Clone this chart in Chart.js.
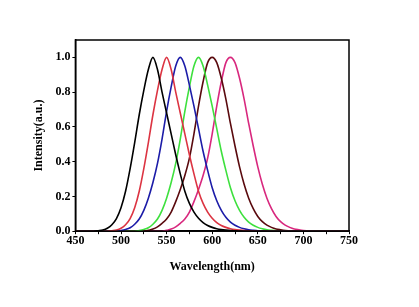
<!DOCTYPE html>
<html lang="en">
<head>
  <meta charset="UTF-8">
  <title>Emission spectra</title>
  <script src="https://cdn.jsdelivr.net/npm/chart.js@4.4.0/dist/chart.umd.min.js"></script>
  <style>
    body { margin: 0; background: #fff; }
  </style>
</head>
<body>

<canvas id="chart" width="419" height="307"></canvas>

<script>
// wavelength grid, 450..750 step 5
const wavelengths = [];
for (let w = 450; w <= 750; w += 5) wavelengths.push(w);

// intensities, 10 per row
const black = [
  0, 0, 0, 0, 0, 0.003, 0.007, 0.017, 0.037, 0.073,
  0.135, 0.23, 0.36, 0.51, 0.67, 0.81, 0.93, 1.00, 0.93, 0.80,
  0.68, 0.56, 0.44, 0.33, 0.23, 0.16, 0.11, 0.075, 0.05, 0.033,
  0.022, 0.014, 0.009, 0.006, 0.004, 0.002, 0.001, 0, 0, 0,
  0, 0, 0, 0, 0, 0, 0, 0, 0, 0,
  0, 0, 0, 0, 0, 0, 0, 0, 0, 0,
  0
];
const red = [
  0, 0, 0, 0, 0, 0, 0, 0, 0.003, 0.007,
  0.017, 0.037, 0.073, 0.135, 0.23, 0.36, 0.51, 0.67, 0.81, 0.93,
  1.00, 0.93, 0.80, 0.68, 0.56, 0.44, 0.33, 0.23, 0.16, 0.11,
  0.075, 0.05, 0.033, 0.022, 0.014, 0.009, 0.006, 0.004, 0.002, 0.001,
  0, 0, 0, 0, 0, 0, 0, 0, 0, 0,
  0, 0, 0, 0, 0, 0, 0, 0, 0, 0,
  0
];
const blue = [
  0, 0, 0, 0, 0, 0, 0, 0, 0, 0,
  0.004, 0.01, 0.02, 0.04, 0.07, 0.12, 0.19, 0.28, 0.39, 0.53,
  0.69, 0.83, 0.95, 1.00, 0.95, 0.84, 0.72, 0.59, 0.46, 0.35,
  0.25, 0.175, 0.12, 0.08, 0.052, 0.034, 0.022, 0.014, 0.008, 0.005,
  0.003, 0.001, 0, 0, 0, 0, 0, 0, 0, 0,
  0, 0, 0, 0, 0, 0, 0, 0, 0, 0,
  0
];
const green = [
  0, 0, 0, 0, 0, 0, 0, 0, 0, 0,
  0, 0, 0, 0, 0.004, 0.01, 0.02, 0.04, 0.07, 0.12,
  0.19, 0.28, 0.39, 0.53, 0.69, 0.83, 0.95, 1.00, 0.95, 0.84,
  0.72, 0.59, 0.46, 0.35, 0.25, 0.175, 0.12, 0.08, 0.052, 0.034,
  0.022, 0.014, 0.008, 0.005, 0.003, 0.001, 0, 0, 0, 0,
  0, 0, 0, 0, 0, 0, 0, 0, 0, 0,
  0
];
const brown = [
  0, 0, 0, 0, 0, 0, 0, 0, 0, 0,
  0, 0, 0, 0, 0, 0, 0.005, 0.012, 0.025, 0.045,
  0.07, 0.11, 0.17, 0.24, 0.32, 0.42, 0.56, 0.72, 0.86, 0.97,
  1.00, 0.97, 0.88, 0.76, 0.62, 0.49, 0.37, 0.27, 0.19, 0.13,
  0.085, 0.055, 0.035, 0.022, 0.013, 0.008, 0.004, 0.002, 0, 0,
  0, 0, 0, 0, 0, 0, 0, 0, 0, 0,
  0
];
const magenta = [
  0, 0, 0, 0, 0, 0, 0, 0, 0, 0,
  0, 0, 0, 0, 0, 0, 0, 0, 0, 0,
  0.005, 0.012, 0.025, 0.045, 0.07, 0.11, 0.17, 0.24, 0.32, 0.42,
  0.56, 0.72, 0.86, 0.97, 1.00, 0.97, 0.88, 0.76, 0.62, 0.49,
  0.37, 0.27, 0.19, 0.13, 0.085, 0.055, 0.035, 0.022, 0.013, 0.008,
  0.004, 0.002, 0, 0, 0, 0, 0, 0, 0, 0,
  0
];

const xTicks = [450, 500, 550, 600, 650, 700, 750];
const yTicks = [0.0, 0.2, 0.4, 0.6, 0.8, 1.0];

const series = [
  { vals: black, color: '#000000' },
  { vals: red, color: '#dc3442' },
  { vals: blue, color: '#1c1ca8' },
  { vals: green, color: '#3ee03e' },
  { vals: brown, color: '#5a0a0e' },
  { vals: magenta, color: '#d8287e' }
];

const frame = {
  id: 'frame',
  afterDatasetsDraw(chart) {
    const a = chart.chartArea, c = chart.ctx;
    c.save();
    c.strokeStyle = '#000';
    c.lineWidth = 1.5;
    c.strokeRect(a.left, a.top, a.right - a.left, a.bottom - a.top);
    c.restore();
  }
};

const tickFont = { family: 'Liberation Serif', size: 12, weight: 'bold' };
const titleFont = { family: 'Liberation Serif', size: 12, weight: 'bold' };

new Chart(document.getElementById('chart').getContext('2d'), {
  type: 'line',
  data: {
    datasets: series.map(s => ({
      data: s.vals.map((v, i) => ({ x: wavelengths[i], y: v })),
      borderColor: s.color,
      borderWidth: 1.6,
      pointRadius: 0,
      cubicInterpolationMode: 'monotone',
      fill: false
    }))
  },
  options: {
    responsive: false,
    animation: false,
    layout: { padding: { top: 40, right: 70, bottom: 29, left: 28 } },
    plugins: { legend: { display: false }, tooltip: { enabled: false } },
    scales: {
      x: {
        type: 'linear', min: 450, max: 750,
        ticks: {
          stepSize: 25, color: '#000', font: tickFont, padding: 0, maxRotation: 0,
          callback: v => xTicks.includes(v) ? v : ''
        },
        grid: { drawOnChartArea: false, tickLength: 3, color: '#000' },
        border: { color: '#000', width: 1.5 },
        title: { display: true, text: 'Wavelength(nm)', color: '#000', font: titleFont, padding: { top: 11 } }
      },
      y: {
        min: 0, max: 1.1,
        ticks: {
          stepSize: 0.1, color: '#000', font: tickFont, padding: 2,
          callback: v => {
            const r = Math.round(v * 10) / 10;
            return yTicks.includes(r) ? r.toFixed(1) : '';
          }
        },
        grid: { drawOnChartArea: false, tickLength: 3, color: '#000' },
        border: { color: '#000', width: 1.5 },
        title: { display: true, text: 'Intensity(a.u.)', color: '#000', font: titleFont, padding: { bottom: 7 } }
      }
    }
  },
  plugins: [frame]
});
</script>
</body>
</html>
